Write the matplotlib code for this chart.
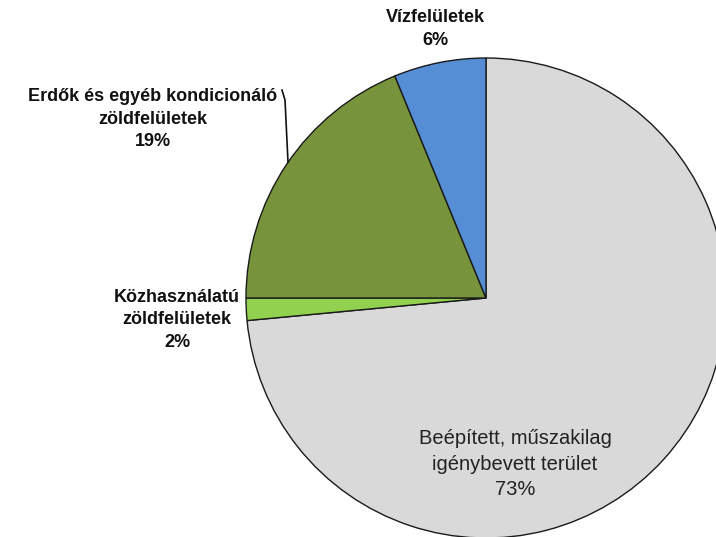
import matplotlib
matplotlib.use("Agg")
import matplotlib.pyplot as plt

categories = ["Beépített, műszakilag\nigénybevett terület",
              "Közhasználatú\nzöldfelületek",
              "Erdők és egyéb kondicionáló\nzöldfelületek",
              "Vízfelületek"]
values = [73.5, 1.5, 18.8, 6.2]
pct_labels = ["73%", "2%", "19%", "6%"]
colors = ["#D9D9D9", "#92D050", "#77933C", "#558ED5"]

W, H = 716, 537
fig = plt.figure(figsize=(W / 100, H / 100), dpi=100)
ax = fig.add_axes([0, 0, 1, 1])

cx, cy, r = 486, H - 298, 240
ax.pie(values, colors=colors, startangle=90, counterclock=False,
       center=(cx, cy), radius=r, frame=True,
       wedgeprops=dict(edgecolor="#1a1a1a", linewidth=1.0))
ax.set_xlim(0, W)
ax.set_ylim(0, H)
ax.set_aspect("equal")
ax.axis("off")

fam = ["Liberation Sans", "DejaVu Sans"]
# Gray label inside
ax.text(515, H - 464, categories[0] + "\n" + pct_labels[0], ha="center", va="center",
        fontsize=14.5, family=fam, color="#222222", linespacing=1.45)
# Light green
ax.text(177, H - 320, categories[1] + "\n" + pct_labels[1], ha="center", va="center",
        fontsize=13, family=fam, fontweight="bold", color="#111111", linespacing=1.4)
# Dark green
ax.text(153, H - 119, categories[2] + "\n" + pct_labels[2], ha="center", va="center",
        fontsize=13, family=fam, fontweight="bold", color="#111111", linespacing=1.45)
# Blue
ax.text(435, H - 29, categories[3] + "\n" + pct_labels[3], ha="center", va="center",
        fontsize=13, family=fam, fontweight="bold", color="#111111", linespacing=1.45)
# leader line
ax.plot([282, 285, 288], [H - 90, H - 100, H - 162], color="#111111", linewidth=1.2)

fig.savefig("out.png", dpi=100)
